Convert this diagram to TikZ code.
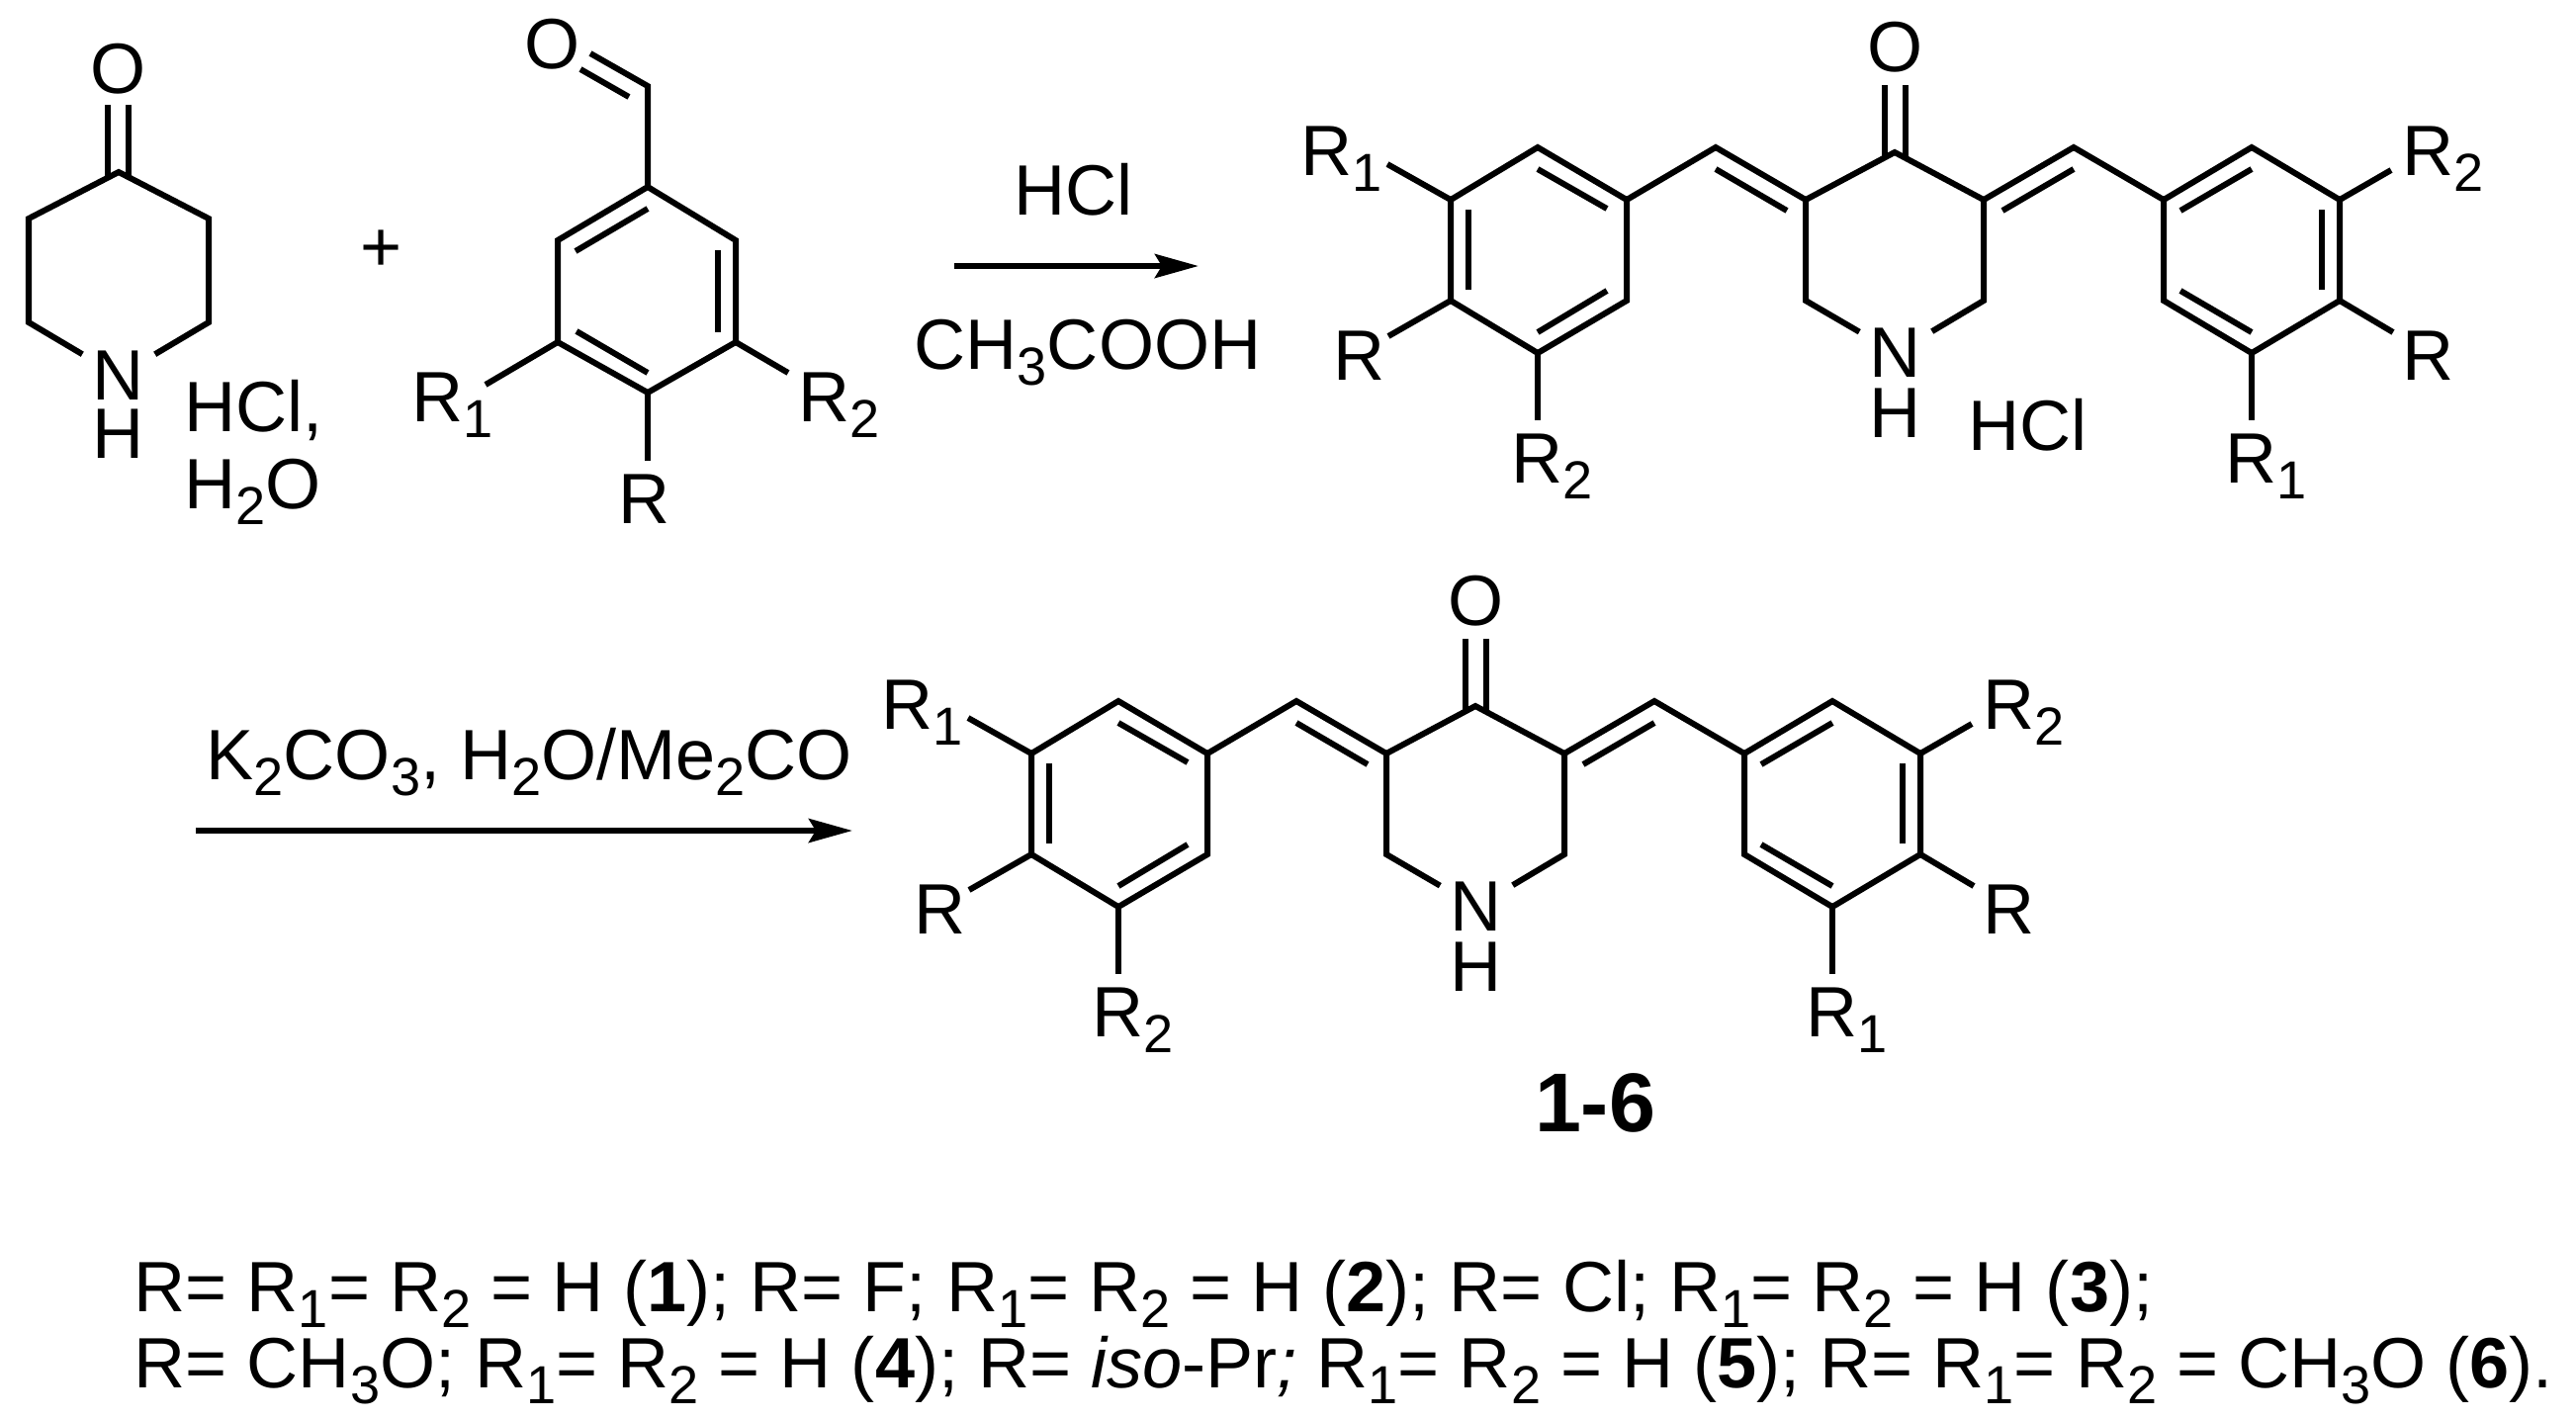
\documentclass[tikz,border=0pt]{standalone}
\usepackage{fontspec}
\setmainfont{Liberation Sans}
\usetikzlibrary{arrows.meta}

\newcommand{\chemsize}{\fontsize{20.5pt}{24pt}\selectfont}
\newcommand{\subidx}[1]{\raisebox{-0.16cm}{\fontsize{15.4pt}{18pt}\selectfont #1}}

\tikzset{
  bond/.style={line width=0.06cm, line join=miter},
  rxnarrow/.style={line width=0.06cm, -{Stealth[length=0.44cm, width=0.24cm, inset=0.07cm]}},
  atomlbl/.style={inner sep=0pt},
  hetero/.style={inner xsep=0.1cm, inner ysep=0pt},
  lbl/.style={anchor=base west, inner sep=0pt},
  dienone/.pic={
    % atoms of both rings and of the central ring
    \foreach \nm/\px/\py in {la/1467/202, lb/1555/149, lc/1645/202, ld/1645/304, le/1555/357, lf/1467/304,
        va/1735/149, vb/2097/149, ca/1826/202, cb/1916/154, cc/2006/202, cd/2006/304, ce/1826/304,
        ra/2188/202, rb/2277/149, rc/2366/202, rd/2366/304, re/2277/357, rf/2188/304}
      \coordinate (-\nm) at (\px,\py);
    \node[atomlbl] (-oxo) at (1917,48) {O};
    \node[hetero] (-nit) at (1917,357) {N};
    \node[atomlbl] (-hyd) at (1917,418) {H};
    \node[lbl] (-ra1) at (1315,177) {R\subidx{1}};
    \node[lbl] (-rl) at (1348,384) {R};
    \node[lbl] (-ra2) at (1528,488) {R\subidx{2}};
    \node[lbl] (-rb2) at (2429,177) {R\subidx{2}};
    \node[lbl] (-rr) at (2429,384) {R};
    \node[lbl] (-rb1) at (2250,488) {R\subidx{1}};
    % free ends of the substituent bonds
    \coordinate (-ea1) at (1403,166);
    \coordinate (-el) at (1404,340);
    \coordinate (-ea2) at (1555,425);
    \coordinate (-eb2) at (2418,172);
    \coordinate (-er) at (2420,336);
    \coordinate (-eb1) at (2277,425);
    % ---- skeleton ----
    \draw[bond] (-la) -- (-lb) -- (-lc) -- (-ld) -- (-le) -- (-lf) -- cycle;
    \draw[bond] (-ra) -- (-rb) -- (-rc) -- (-rd) -- (-re) -- (-rf) -- cycle;
    \draw[bond] (-lc) -- (-va) -- (-ca) -- (-cb) -- (-cc) -- (-vb) -- (-ra);
    \draw[bond] (-nit) -- (-ce) -- (-ca);
    \draw[bond] (-nit) -- (-cd) -- (-cc);
    % ---- inner lines of the double bonds ----
    \foreach \fa/\fb/\ta/\tb in {1555/171/1625/211, 1485/212/1485/293, 1555/336/1625/294,
        1735/171/1807/213, 2097/171/2025/213,
        2277/171/2205/213, 2348/212/2348/293, 2277/336/2205/294,
        1906/86/1906/160, 1927/86/1927/160}
      \draw[bond] (\fa,\fb) -- (\ta,\tb);
    % ---- substituents ----
    \draw[bond] (-la) -- (-ea1);
    \draw[bond] (-lf) -- (-el);
    \draw[bond] (-le) -- (-ea2);
    \draw[bond] (-rc) -- (-eb2);
    \draw[bond] (-rd) -- (-er);
    \draw[bond] (-re) -- (-eb1);
  }
}

\begin{document}
\begin{tikzpicture}[x=0.01cm, y=-0.01cm, every node/.style={font=\chemsize}]
\useasboundingbox (0,0) rectangle (2605,1435);

% ---- PIPERIDONE ----
\coordinate (pa) at (120,174);
\coordinate (pb) at (211,221);
\coordinate (pc) at (211,326);
\coordinate (pd) at (29,326);
\coordinate (pe) at (29,221);
\node[atomlbl] (poxo) at (120,70) {O};
\node[hetero] (pnit) at (120,380) {N};
\node[atomlbl] (phyd) at (120,439) {H};
\draw[bond] (pnit) -- (pc) -- (pb) -- (pa) -- (pe) -- (pd) -- (pnit);
\draw[bond] (109,106) -- (109,180);
\draw[bond] (130,106) -- (130,180);
\node[lbl] (phcl) at (186,436) {HCl,};
\node[lbl] (pwat) at (186,514) {H\subidx{2}O};
\node[lbl, anchor=base] (plus) at (386,274) {+};

% ---- ALDEHYDE ----
\coordinate (ba) at (655,189);
\coordinate (bb) at (744,243);
\coordinate (bc) at (744,346);
\coordinate (bd) at (655,397);
\coordinate (be) at (564,346);
\coordinate (bf) at (564,243);
\coordinate (bcho) at (655,87);
\draw[bond] (ba) -- (bb) -- (bc) -- (bd) -- (be) -- (bf) -- cycle;
\draw[bond] (ba) -- (bcho) -- (597,54);
\draw[bond] (636,98) -- (587,70);
\draw[bond] (655,211) -- (582,254);
\draw[bond] (726,253) -- (726,336);
\draw[bond] (583,335) -- (655,377);
\node[atomlbl] (boxo) at (559,45) {O};
\node[lbl] (bra) at (416,426) {R\subidx{1}};
\node[lbl] (brb) at (807,426) {R\subidx{2}};
\node[lbl] (brc) at (625,529) {R};
\coordinate (bea) at (491,389);
\coordinate (beb) at (797,377);
\coordinate (bec) at (655,466);
\draw[bond] (be) -- (bea);
\draw[bond] (bc) -- (beb);
\draw[bond] (bd) -- (bec);

% ---- FIRST ARROW ----
\coordinate (afrom) at (965,269);
\coordinate (ato) at (1212,269);
\draw[rxnarrow] (afrom) -- (ato);
\node[lbl] (ahcl) at (1025,217) {HCl};
\node[lbl] (aacid) at (924,373) {CH\subidx{3}COOH};

% ---- SALT ----
\pic (top) at (0,0) {dienone};
\node[lbl] (salt) at (1990,455) {HCl};

% ---- SECOND ARROW ----
\coordinate (bfrom) at (198,840);
\coordinate (bto) at (862,840);
\draw[rxnarrow] (bfrom) -- (bto);
\node[lbl] (base) at (208,788) {K\subidx{2}CO\subidx{3}, H\subidx{2}O/Me\subidx{2}CO};

% ---- PRODUCT ----
\pic (low) at (-424,560) {dienone};
\node[lbl, anchor=base, font=\fontsize{24pt}{28pt}\selectfont\bfseries] (cmpd) at (1613,1144) {1-6};

% ---- SUBSTITUENT LIST ----
\node[lbl] (lista) at (135,1326) {R= R\subidx{1}= R\subidx{2} = H (\textbf{1}); R= F; R\subidx{1}= R\subidx{2} = H (\textbf{2}); R= Cl; R\subidx{1}= R\subidx{2} = H (\textbf{3});};
\node[lbl] (listb) at (135,1403) {R= CH\subidx{3}O; R\subidx{1}= R\subidx{2} = H (\textbf{4}); R= \textit{iso}-Pr\textit{;} R\subidx{1}= R\subidx{2} = H (\textbf{5}); R= R\subidx{1}= R\subidx{2} = CH\subidx{3}O (\textbf{6}).};

\end{tikzpicture}
\end{document}
